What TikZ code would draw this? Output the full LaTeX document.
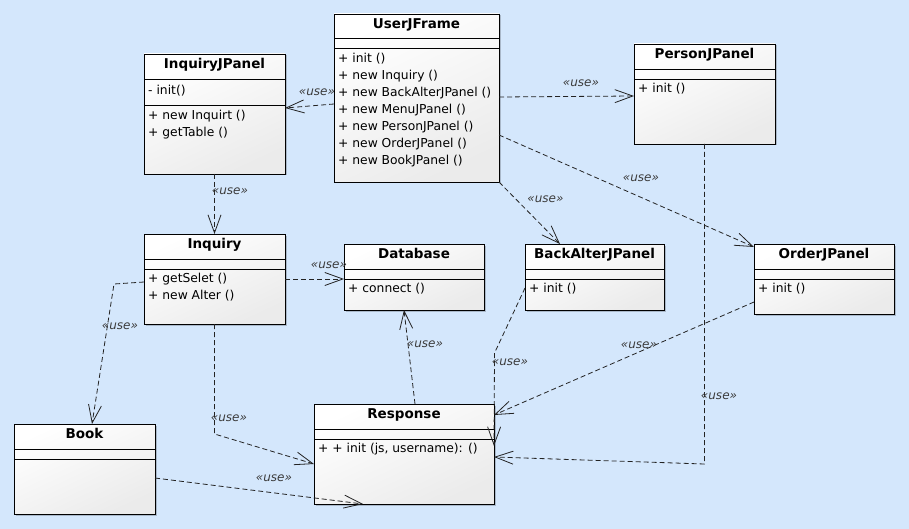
\documentclass[tikz,border=0pt]{standalone}
\usepackage{fontspec}
\setmainfont{DejaVu Sans}
\usetikzlibrary{arrows.meta,shadows}
\definecolor{bgblue}{RGB}{212,231,252}
\definecolor{linecol}{RGB}{35,35,35}
\definecolor{labcol}{RGB}{60,60,60}
\tikzset{
 classbox/.style={draw=black, line width=0.9pt, anchor=north west, inner sep=0pt, outer sep=0pt,
   top color=white, bottom color=black!8, shading angle=25,
   drop shadow={shadow xshift=1.5pt, shadow yshift=-1.5pt, opacity=0.2, fill=black}},
 ctitle/.style={font=\fontsize{13.5}{15}\selectfont\bfseries, anchor=base, inner sep=0pt},
 cline/.style={font=\fontsize{12.3}{17}\selectfont, anchor=base west, inner sep=0pt},
 divider/.style={line width=0.9pt},
 usedep/.style={draw=linecol, line width=0.8pt, dash pattern=on 5pt off 3pt,
   -{Straight Barb[length=18pt,width=13pt]}},
 uselabel/.style={font=\fontsize{12}{14}\selectfont\itshape, text=labcol, inner sep=0pt},
}
\newcommand\umlclass[8]{%
 \node[classbox, minimum width=#4pt, minimum height=#5pt] (#1) at (#2,#3) {};
 \node[ctitle] (#1-title) at ([yshift=-14.5pt]#1.north) {#6};
 \draw[divider] ([yshift=-#7pt]#1.north west) -- ([yshift=-#7pt]#1.north east);
 \draw[divider] ([yshift=-#8pt]#1.north west) -- ([yshift=-#8pt]#1.north east);
}
\newcommand\umlline[4]{\node[cline] (#1) at ([xshift=4pt,yshift=-#3pt]#2.north west) {#4};}
\begin{document}
\begin{tikzpicture}[x=1pt,y=-1pt]
\fill[bgblue] (0,0) rectangle (909,529);
\useasboundingbox (0,0) rectangle (909,529);

% classes
\umlclass{uj}{334}{14}{165}{168}{UserJFrame}{24}{34}
\umlline{uj-m1}{uj}{49}{+ init ()}
\umlline{uj-m2}{uj}{66}{+ new Inquiry ()}
\umlline{uj-m3}{uj}{83}{+ new BackAlterJPanel ()}
\umlline{uj-m4}{uj}{100}{+ new MenuJPanel ()}
\umlline{uj-m5}{uj}{117}{+ new PersonJPanel ()}
\umlline{uj-m6}{uj}{134}{+ new OrderJPanel ()}
\umlline{uj-m7}{uj}{151}{+ new BookJPanel ()}

\umlclass{ijp}{144}{54}{141}{120}{InquiryJPanel}{25}{51}
\umlline{ijp-a1}{ijp}{41}{- init()}
\umlline{ijp-m1}{ijp}{66}{+ new Inquirt ()}
\umlline{ijp-m2}{ijp}{83}{+ getTable ()}

\umlclass{pj}{634}{44}{141}{100}{PersonJPanel}{25}{35}
\umlline{pj-m1}{pj}{48.5}{+ init ()}

\umlclass{ba}{525}{244}{139}{66}{BackAlterJPanel}{25}{35}
\umlline{ba-m1}{ba}{48.5}{+ init ()}

\umlclass{oj}{754}{244}{140}{70}{OrderJPanel}{25}{35}
\umlline{oj-m1}{oj}{48.5}{+ init ()}

\umlclass{inq}{144}{234}{141}{90}{Inquiry}{25}{35}
\umlline{inq-m1}{inq}{48.5}{+ getSelet ()}
\umlline{inq-m2}{inq}{65.5}{+ new Alter ()}

\umlclass{db}{344}{244}{140}{66}{Database}{25}{35}
\umlline{db-m1}{db}{48.5}{+ connect ()}

\umlclass{resp}{314}{404}{180}{100}{Response}{25}{35}
\umlline{resp-m1}{resp}{48.5}{+ + init (js, username): ()}

\umlclass{book}{14}{424}{141}{90}{Book}{25}{35}

% dependencies
\coordinate (b7) at (114,284);
\coordinate (b8) at (214.5,434);
\coordinate (b11) at (494.5,353);
\coordinate (b13) at (704.5,464);

\draw[usedep] ([yshift=-6pt]uj.west) -- ([yshift=6pt]ijp.east);
\draw[usedep] ([yshift=1pt]uj.east) -- ([yshift=-2pt]pj.west);
\draw[usedep] ([yshift=-37pt]uj.east) -- ([yshift=-3pt]oj.north west);
\draw[usedep] (uj.south east) -- ([xshift=35pt]ba.north west);
\draw[usedep] (ijp.south) -- (inq.north);
\draw[usedep] (inq.east) -- (inq.east -| db.west);
\draw[usedep] ([yshift=-3pt]inq.west) -- (b7) -- ([xshift=78pt]book.north west);
\draw[usedep] (inq.south) -- (b8) -- ([yshift=-10pt]resp.west);
\draw[usedep] ([xshift=11pt]resp.north) -- ([xshift=60pt]db.south west);
\draw[usedep] ([yshift=-9pt]book.east) -- ([xshift=49pt]resp.south west);
\draw[usedep] ([yshift=-11pt]ba.west) -- (b11) -- ([yshift=8pt]resp.east);
\draw[usedep] ([yshift=-23pt]oj.west) -- ([yshift=39pt]resp.east);
\draw[usedep] (pj.south) -- (b13) -- ([yshift=-3pt]resp.east);

% labels
\node[uselabel] (l1) at (317,92) {«use»};
\node[uselabel] (l2) at (581,83) {«use»};
\node[uselabel] (l3) at (641,178) {«use»};
\node[uselabel] (l4) at (545.5,199) {«use»};
\node[uselabel] (l5) at (230,191) {«use»};
\node[uselabel] (l6) at (329,265) {«use»};
\node[uselabel] (l7) at (120,326) {«use»};
\node[uselabel] (l8) at (229,418) {«use»};
\node[uselabel] (l9) at (425,344) {«use»};
\node[uselabel] (l10) at (274,478) {«use»};
\node[uselabel] (l11) at (510,362) {«use»};
\node[uselabel] (l12) at (639,345) {«use»};
\node[uselabel] (l13) at (719,396) {«use»};
\end{tikzpicture}
\end{document}
